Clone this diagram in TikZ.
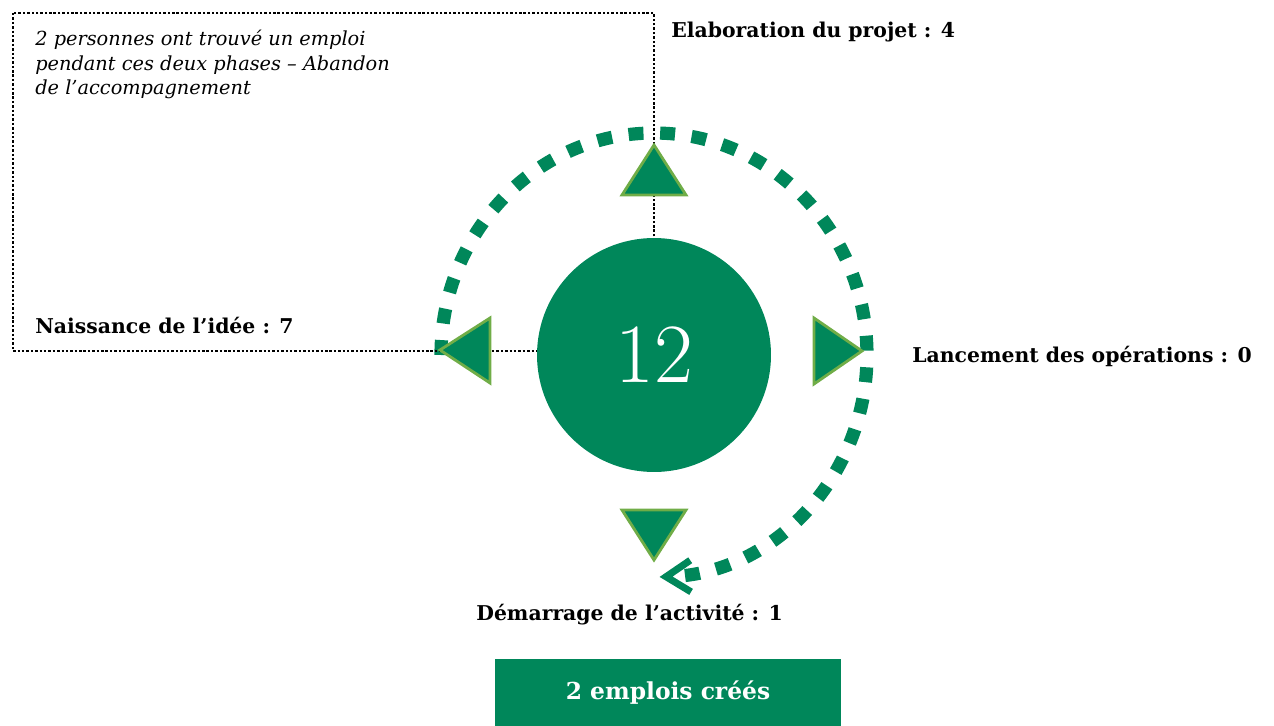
\documentclass[tikz,border=0pt]{standalone}
\usepackage{fontspec}
\usepackage{xcolor}
\newfontfamily\labelfont{DejaVu Serif}
\definecolor{vert}{HTML}{00875A}
\definecolor{vertclair}{HTML}{70AD47}
\usetikzlibrary{arrows.meta, positioning, calc}

\begin{document}
\begin{tikzpicture}[
    x=0.02cm, y=-0.02cm,
    phase/.style={anchor=base west, inner sep=0pt, font=\labelfont\fontsize{11.6}{13}\selectfont\bfseries},  % phase labels
    tri/.style={fill=vert, draw=vertclair, line width=1.6pt},                                               % direction triangles
    cycle line/.style={draw=vert, line width=7.5pt, dash pattern=on 8.5pt off 9.5pt,
                       -{Straight Barb[length=14pt, width=18pt, line width=4pt]}},                        % dashed loop
    note/.style={draw, line width=1.4pt, dash pattern=on 1.4pt off 1.1pt}                                    % dotted frame
]
\useasboundingbox (0,0) rectangle (1274,726);

% --- DASHED LOOP ---
\coordinate (c) at (654,355);
\draw[cycle line] ($(c)+(180:213 and 222)$) arc[start angle=180, end angle=448.5, x radius=213, y radius=222];

% --- DOTTED FRAME ---
\draw[note] (13,13) rectangle (654,351);

% --- CENTRE ---
\node[circle, fill=vert, minimum size=4.68cm, inner sep=0pt, text=white,
      font=\fontsize{48}{50}\selectfont] (total) at (c) {12};

% --- TRIANGLES ---
\draw[tri] (654,145) -- (686,195) -- (622,195) -- cycle;  % up
\draw[tri] (440,350) -- (490,318) -- (490,383) -- cycle;  % left
\draw[tri] (862,351) -- (814,318) -- (814,384) -- cycle;  % right
\draw[tri] (654,560) -- (686,510) -- (622,510) -- cycle;  % down

% --- PHASES ---
\node[phase] (idee)   at (35,333)  {Naissance de l’idée : 7};
\node[phase] (projet) at (671,38)  {Elaboration du projet : 4};
\node[phase] (ops)    at (912,362) {Lancement des opérations : 0};
\node[phase] (start)  at (476,620) {Démarrage de l’activité : 1};

% --- NOTE ---
\node[anchor=north west, inner sep=0pt, align=left,
      font=\labelfont\fontsize{11}{13.9}\selectfont\itshape] (abandon) at (35,30)
    {2 personnes ont trouvé un emploi\\pendant ces deux phases – Abandon\\de l’accompagnement};

% --- RESULT ---
\node[fill=vert, minimum width=6.92cm, minimum height=1.34cm, text=white,
      font=\labelfont\fontsize{13.3}{15}\selectfont\bfseries] (jobs) at (668,692.5) {2 emplois créés};

\end{tikzpicture}
\end{document}
